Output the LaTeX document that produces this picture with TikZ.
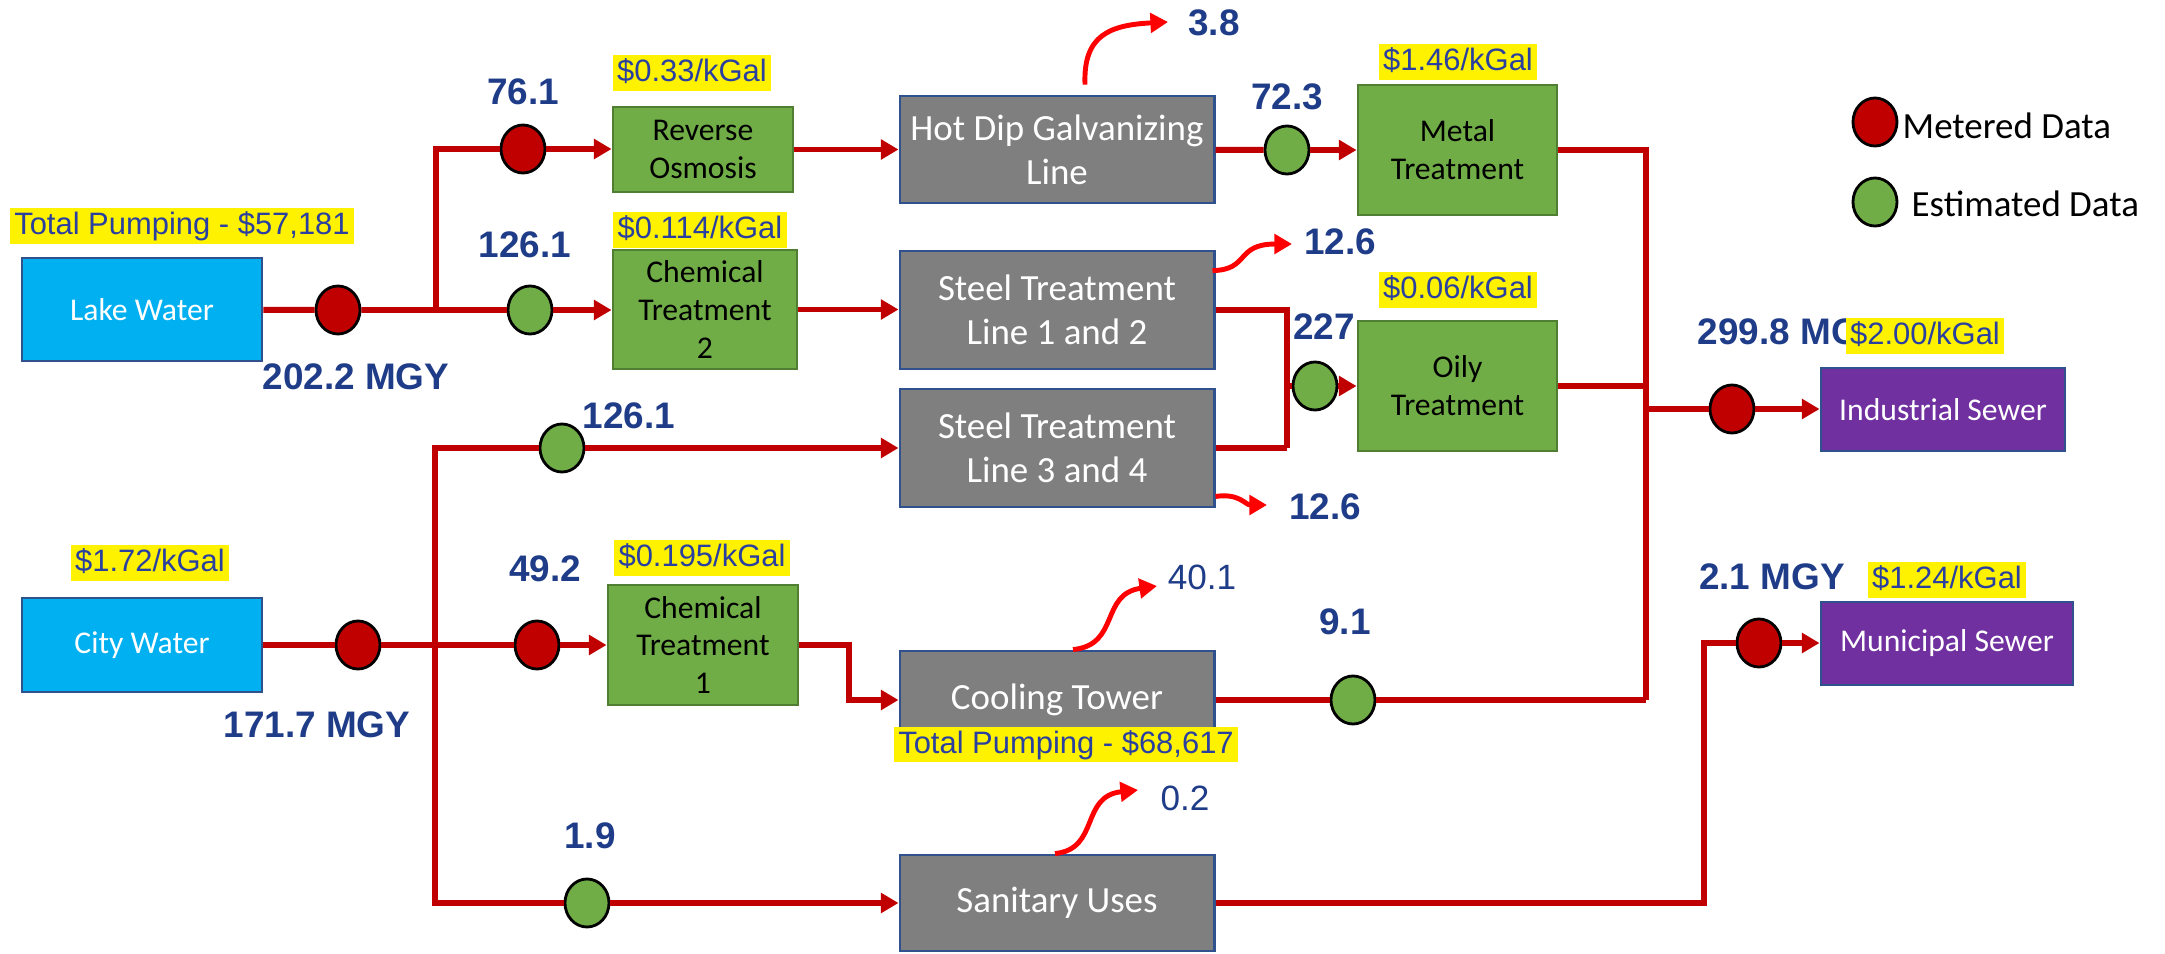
\documentclass[tikz,border=0pt]{standalone}
\usepackage{fontspec}
\setmainfont{Carlito}
\newfontfamily\arialf{Liberation Sans}
\usetikzlibrary{arrows.meta,shapes.geometric}
\definecolor{pipe}{HTML}{C00000}
\definecolor{exh}{HTML}{FF0000}
\definecolor{mgreen}{HTML}{70AD47}
\definecolor{gborder}{HTML}{507E32}
\definecolor{bborder}{HTML}{2F528F}
\definecolor{cGray}{HTML}{7F7F7F}
\definecolor{cBlue}{HTML}{00B0F0}
\definecolor{cPurple}{HTML}{7030A0}
\definecolor{navy}{HTML}{1F3C88}
\definecolor{pblue}{HTML}{2A40A0}
\begin{document}
\begin{tikzpicture}[x=0.01cm,y=-0.01cm,
  flow/.style={draw=pipe,line width=1.7pt},
  arr/.style={-{Triangle[length=5pt,width=5.5pt]}},
  exhaust/.style={draw=exh,line width=1.4pt,-{Triangle[length=5pt,width=5.5pt]}},
  pbox/.style={rectangle,inner sep=0pt,line width=0.8pt,align=center,font=\fontsize{9}{10.8}\selectfont},
  greenbox/.style={pbox,fill=mgreen,draw=gborder,text=black},
  graybox/.style={pbox,fill=cGray,draw=bborder,text=white,font=\fontsize{10.5}{12.6}\selectfont},
  srcbox/.style={pbox,fill=cBlue,draw=bborder,text=white},
  sewbox/.style={pbox,fill=cPurple,draw=bborder,text=white},
  meterR/.style={ellipse,draw=black,line width=0.8pt,fill=pipe,minimum width=0.44cm,minimum height=0.48cm,inner sep=0pt},
  meterG/.style={meterR,fill=mgreen},
  num/.style={font=\arialf\bfseries\fontsize{10.5}{12}\selectfont,text=navy,inner sep=0pt},
  numlight/.style={font=\arialf\fontsize{10}{12}\selectfont,text=navy,inner sep=0pt},
  price/.style={fill=yellow,font=\arialf\fontsize{8.8}{10}\selectfont,text=pblue,inner xsep=1.2pt,inner ysep=0.6pt,text height=7pt,text depth=2pt},
  legtext/.style={font=\fontsize{10.5}{12}\selectfont,text=black,inner sep=0pt}
]
\useasboundingbox (0,0) rectangle (2165,954);

% boxes
\node[srcbox,minimum width=2.40cm,minimum height=1.03cm] (lake) at (142,309.5) {Lake Water};
\node[srcbox,minimum width=2.40cm,minimum height=0.94cm] (city) at (142,645) {City Water};
\node[greenbox,minimum width=1.80cm,minimum height=0.85cm] (ro) at (703,149.5) {Reverse\\Osmosis};
\node[greenbox,minimum width=1.84cm,minimum height=1.19cm] (chemtwo) at (705,309.5) {Chemical\\Treatment\\2};
\node[greenbox,minimum width=1.90cm,minimum height=1.20cm] (chemone) at (703,645) {Chemical\\Treatment\\1};
\node[graybox,minimum width=3.14cm,minimum height=1.07cm] (hdg) at (1057,149.5) {Hot Dip Galvanizing\\Line};
\node[graybox,minimum width=3.14cm,minimum height=1.18cm] (sta) at (1057,310) {Steel Treatment\\Line 1 and 2};
\node[graybox,minimum width=3.14cm,minimum height=1.18cm] (stb) at (1057,448) {Steel Treatment\\Line 3 and 4};
\node[graybox,minimum width=3.14cm,minimum height=0.98cm] (cool) at (1057,700) {Cooling Tower};
\node[graybox,minimum width=3.14cm,minimum height=0.96cm] (san) at (1057,903) {Sanitary Uses};
\node[greenbox,minimum width=1.99cm,minimum height=1.30cm] (metal) at (1457.5,150) {Metal\\Treatment};
\node[greenbox,minimum width=1.99cm,minimum height=1.30cm] (oily) at (1457.5,386) {Oily\\Treatment};
\node[sewbox,minimum width=2.44cm,minimum height=0.83cm] (ind) at (1943,409.5) {Industrial Sewer};
\node[sewbox,minimum width=2.52cm,minimum height=0.83cm] (mun) at (1947,643.5) {Municipal Sewer};

% meters
\node[meterR] (m1) at (338,310) {};
\node[meterR] (m2) at (523,149) {};
\node[meterG] (m3) at (530,310) {};
\node[meterG] (m4) at (1287,150) {};
\node[meterR] (m5) at (1732,409) {};
\node[meterG] (m6) at (1315,386) {};
\node[meterR] (m7) at (358,645) {};
\node[meterR] (m8) at (537,645) {};
\node[meterG] (m9) at (562,448) {};
\node[meterG] (m10) at (587,903) {};
\node[meterG] (m11) at (1353,700) {};
\node[meterR] (m12) at (1759,643) {};

% junctions
\coordinate (j1) at (436,310);
\coordinate (j2) at (435,645);
\coordinate (ja) at (1287,448);
\coordinate (jd) at (1287,386);
\coordinate (t1) at (1646,150);
\coordinate (t2) at (1646,700);
\coordinate (t3) at (1646,409);
\coordinate (k1) at (849,645);
\coordinate (k2) at (1704,903);

% flows
\draw[flow] (lake) -- (m1) -- (j1);
\draw[flow] (j1) |- (m2);
\draw[flow,arr] (m2) -- (m2 -| ro.west);
\draw[flow] (j1) -- (m3);
\draw[flow,arr] (m3) -- (m3 -| chemtwo.west);
\draw[flow,arr] (ro) -- (ro -| hdg.west);
\draw[flow,arr] (chemtwo) -- (chemtwo -| sta.west);
\draw[flow] (hdg) -- (m4);
\draw[flow,arr] (m4) -- (m4 -| metal.west);
\draw[flow] (metal.east) -- (t1) -- (t2);
\draw[flow] (oily.east) -- (oily.east -| t1);
\draw[flow] (t3) -- (m5);
\draw[flow,arr] (m5) -- (m5 -| ind.west);
\draw[flow] (sta.east) -| (ja);
\draw[flow] (stb.east) -- (ja);
\draw[flow] (jd) -- (m6);
\draw[flow,arr] (m6) -- (m6 -| oily.west);
\draw[flow] (city) -- (m7) -- (j2);
\draw[flow] (j2) -- (m8);
\draw[flow,arr] (m8) -- (m8 -| chemone.west);
\draw[flow] (j2) |- (m9);
\draw[flow,arr] (m9) -- (m9 -| stb.west);
\draw[flow] (j2) |- (m10);
\draw[flow,arr] (m10) -- (m10 -| san.west);
\draw[flow,arr] (chemone.east) -- (k1) |- (cool.west);
\draw[flow] (cool) -- (m11);
\draw[flow] (m11) -- (t2);
\draw[flow] (san.east) -- (k2) |- (m12);
\draw[flow,arr] (m12) -- (m12 -| mun.west);

% exhaust curves
\coordinate (e1a) at ([xshift=0.28cm,yshift=0.1cm]hdg.north);
\coordinate (e1b) at (1168,22);
\draw[exhaust] (e1a) .. controls (1083,35) and (1110,25) .. (e1b);
\coordinate (e2a) at ([xshift=-0.03cm,yshift=-0.21cm]sta.north east);
\coordinate (e2b) at (1292,244);
\draw[exhaust] (e2a) .. controls (1250,270) and (1235,244) .. (e2b);
\coordinate (e3a) at ([yshift=0.12cm]stb.south east);
\coordinate (e3b) at (1267,505);
\draw[exhaust] (e3a) .. controls (1240,493) and (1245,505) .. (e3b);
\coordinate (e4a) at ([xshift=0.16cm]cool.north);
\coordinate (e4b) at (1157,586);
\draw[exhaust] (e4a) .. controls (1120,645) and (1100,594) .. (e4b);
\coordinate (e5a) at ([xshift=-0.02cm]san.north);
\coordinate (e5b) at (1138,790);
\draw[exhaust] (e5a) .. controls (1100,849) and (1080,796) .. (e5b);

% numbers
\node[num] (n761) at (523,92) {76.1};
\node[num] (n1261a) at (525,245) {126.1};
\node[num] (n2022) at (356,377) {202.2 MGY};
\node[num] (n38) at (1214,23) {3.8};
\node[num] (n723) at (1287,97) {72.3};
\node[num] (n126a) at (1340,242) {12.6};
\node[num] (n227) at (1324,327) {227};
\node[num] (n126b) at (1325,507) {12.6};
\node[num] (n1261b) at (629,416) {126.1};
\node[num] (n492) at (545,569) {49.2};
\node[num] (n1717) at (317,725) {171.7 MGY};
\node[num] (n19) at (590,836) {1.9};
\node[num] (n91) at (1345,622) {9.1};
\node[num] (n21) at (1772,577) {2.1 MGY};
\node[num,anchor=west] (n2998) at (1697,332) {299.8 MGY};
\node[numlight] (n401) at (1202,577) {40.1};
\node[numlight] (n02) at (1185,798) {0.2};

% prices
\node[price] (p1) at (692,73) {\$0.33/kGal};
\node[price] (p2) at (700,230) {\$0.114/kGal};
\node[price] (p3) at (1458,62) {\$1.46/kGal};
\node[price] (p4) at (1458,290) {\$0.06/kGal};
\node[price] (p5) at (182,226) {Total Pumping - \$57,181};
\node[price] (p6) at (1925,336) {\$2.00/kGal};
\node[price] (p7) at (150,563) {\$1.72/kGal};
\node[price] (p8) at (702,558) {\$0.195/kGal};
\node[price] (p9) at (1066,744.5) {Total Pumping - \$68,617};
\node[price] (p10) at (1947,580) {\$1.24/kGal};

% legend
\node[meterR] (lr) at (1875,122) {};
\node[meterG] (lg) at (1875,202) {};
\node[legtext,anchor=west] (lt1) at (1902,126) {Metered Data};
\node[legtext,anchor=west] (lt2) at (1911,204) {Estimated Data};
\end{tikzpicture}
\end{document}
